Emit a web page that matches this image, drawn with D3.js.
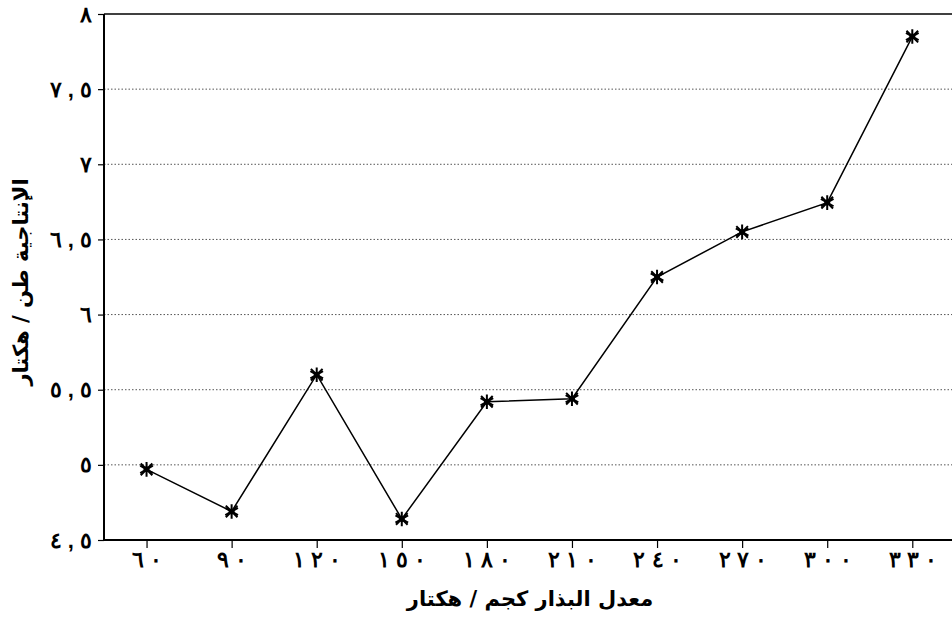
<!DOCTYPE html>
<html>
<head>
<meta charset="utf-8">
<script src="https://cdn.jsdelivr.net/npm/d3@7/dist/d3.min.js"></script>
<style>
  body { margin: 0; background: #fff; }
  svg { display: block; font-family: "DejaVu Sans", sans-serif; }
  .num { direction: ltr; unicode-bidi: bidi-override; }
</style>
</head>
<body>
<svg width="952" height="630"></svg>
<script>
// seed rate (kg / ha) and yield (t / ha)
var seedRate = [60, 90, 120, 150, 180, 210, 240, 270, 300, 330];
var yieldVals = [4.97, 4.69, 5.6, 4.64, 5.42, 5.44, 6.25, 6.55, 6.745, 7.85];
var yTicks = [4.5, 5, 5.5, 6, 6.5, 7, 7.5, 8];
var xLabelTxt = ["٦ ٠", "٩ ٠", "١ ٢ ٠", "١ ٥ ٠", "١ ٨ ٠", "٢ ١ ٠", "٢ ٤ ٠", "٢ ٧ ٠", "٣ ٠ ٠", "٣ ٣ ٠"];
var yLabelTxt = ["٤ , ٥", "٥", "٥ , ٥", "٦", "٦ , ٥", "٧", "٧ , ٥", "٨"];

var chart = function() {

var svg = d3.select("svg"),
    pLeft = 104, pRight = 952, pTop = 14, pBottom = 540;

var x = d3.scaleLinear().domain([45, 344]).range([pLeft, pRight]);
var y = d3.scaleLinear().domain([4.5, 8]).range([pBottom, pTop]);

// dotted grid
svg.append("g")
  .selectAll("line")
  .data(yTicks.slice(1, -1))
  .enter().append("line")
    .attr("x1", pLeft).attr("x2", pRight)
    .attr("y1", d => y(d)).attr("y2", d => y(d))
    .attr("stroke", "#555")
    .attr("stroke-width", 1)
    .attr("stroke-dasharray", "1.5,2");

// frame lines
svg.append("line").attr("x1", pLeft).attr("x2", pRight).attr("y1", pTop).attr("y2", pTop)
  .attr("stroke", "#000").attr("stroke-width", 1.5);

var xAxis = svg.append("g")
    .attr("transform", "translate(0," + pBottom + ")")
    .call(d3.axisBottom(x).tickValues(seedRate).tickSize(8).tickSizeOuter(0)
      .tickFormat((d, i) => xLabelTxt[i]));
xAxis.select(".domain").remove();
xAxis.selectAll(".tick line").attr("stroke-width", 1.2);
xAxis.selectAll(".tick text")
    .attr("class", "num")
    .attr("y", 11).attr("dy", "0.71em")
    .attr("font-size", 22).attr("font-weight", "bold")
    .attr("fill", "#000");

var yAxis = svg.append("g")
    .attr("transform", "translate(" + pLeft + ",0)")
    .call(d3.axisLeft(y).tickValues(yTicks).tickSize(6).tickSizeOuter(0)
      .tickFormat((d, i) => yLabelTxt[i]));
yAxis.select(".domain").remove();
yAxis.selectAll(".tick line").attr("stroke-width", 1.2);
yAxis.selectAll(".tick text")
    .attr("class", "num")
    .attr("x", -12)
    .attr("font-size", 22).attr("font-weight", "bold")
    .attr("fill", "#000");

svg.append("line").attr("x1", pLeft).attr("x2", pRight).attr("y1", pBottom).attr("y2", pBottom)
  .attr("stroke", "#000").attr("stroke-width", 2);
svg.append("line").attr("x1", pLeft).attr("x2", pLeft).attr("y1", pTop).attr("y2", pBottom)
  .attr("stroke", "#000").attr("stroke-width", 2);

// data line
var pts = seedRate.map((s, i) => [s, yieldVals[i]]);
svg.append("path")
    .datum(pts)
    .attr("fill", "none")
    .attr("stroke", "#000")
    .attr("stroke-width", 1.5)
    .attr("d", d3.line().x(d => x(d[0])).y(d => y(d[1])));

// star markers
var mk = svg.append("g").selectAll("g")
    .data(pts)
    .enter().append("g")
      .attr("transform", d => "translate(" + x(d[0]) + "," + y(d[1]) + ")");
mk.append("path")
    .attr("d", d3.symbol(d3.symbolAsterisk, 150))
    .attr("stroke", "#000").attr("stroke-width", 2).attr("fill", "none");
mk.append("path")
    .attr("d", d3.symbol(d3.symbolTimes, 90))
    .attr("stroke", "#000").attr("stroke-width", 2).attr("fill", "none");
mk.append("circle").attr("r", 3).attr("fill", "#000");

// axis titles
svg.append("text")
    .attr("x", 530).attr("y", 606)
    .attr("text-anchor", "middle")
    .attr("font-size", 21).attr("font-weight", "bold")
    .attr("direction", "rtl")
    .text("معدل البذار كجم / هكتار");

svg.append("text")
    .attr("transform", "translate(28,282) rotate(-90)")
    .attr("text-anchor", "middle")
    .attr("font-size", 21).attr("font-weight", "bold")
    .attr("direction", "rtl")
    .text("الإنتاجية طن / هكتار");
};

chart();
</script>
</body>
</html>
